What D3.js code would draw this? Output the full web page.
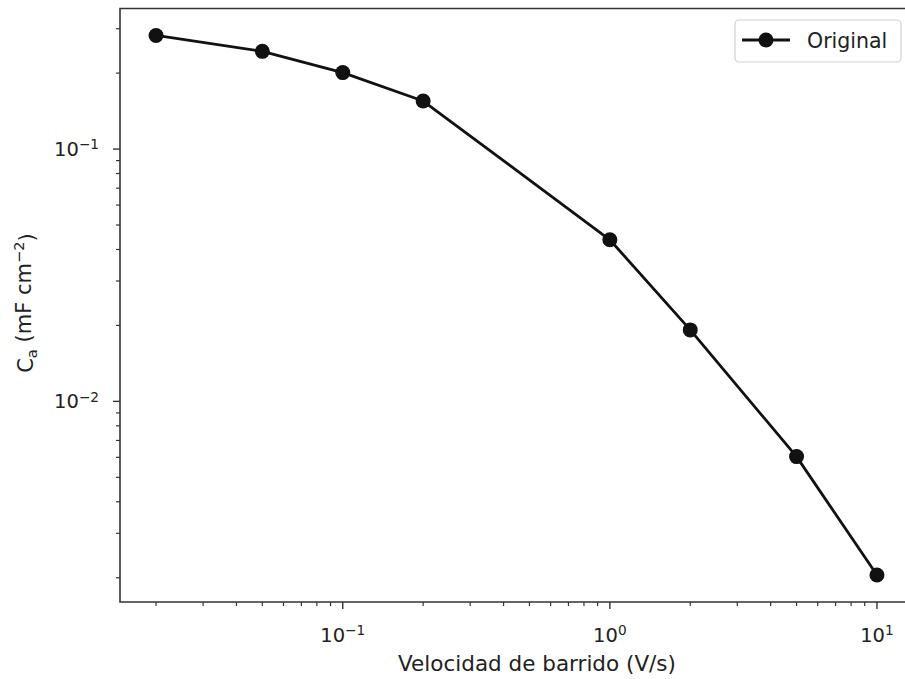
<!DOCTYPE html>
<html>
<head>
<meta charset="utf-8">
<script src="https://cdn.jsdelivr.net/npm/d3@7/dist/d3.min.js"></script>
<style>
  html, body { margin: 0; padding: 0; background: #fff; }
  svg { display: block; font-family: "DejaVu Sans", sans-serif; }
</style>
</head>
<body>
<svg id="chart" width="905" height="679"></svg>
<script>
// Scan rate (V/s) and areal capacitance (mF cm^-2)
const scanRates = [0.02, 0.05, 0.1, 0.2, 1, 2, 5, 10];
const capacitance = [0.282, 0.244, 0.201, 0.155, 0.0437, 0.0192, 0.00604, 0.00205];
const seriesName = "Original";
const xMajorExps = [-1, 0, 1];
const yMajorExps = [-2, -1];
const xLabel = "Velocidad de barrido (V/s)";

const svg = d3.select("#chart");
const m = { left: 120, top: 8.5, right: 913, bottom: 602 };

// log-space limits padded by 5% of the data span on each side
function paddedLog(vals) {
  const lo = Math.log10(d3.min(vals)), hi = Math.log10(d3.max(vals));
  const pad = (hi - lo) * 0.05;
  return [Math.pow(10, lo - pad), Math.pow(10, hi + pad)];
}

const x = d3.scaleLog().domain(paddedLog(scanRates)).range([m.left, m.right]);
const y = d3.scaleLog().domain(paddedLog(capacitance)).range([m.bottom, m.top]);

const ink = "#111";
const spine = "#333";
const textCol = "#222";

// minor tick positions: 2..9 x 10^k inside each domain
function minors(scale) {
  const [a, b] = scale.domain();
  const out = [];
  for (let k = Math.floor(Math.log10(a)); k <= Math.ceil(Math.log10(b)); k++) {
    for (let j = 2; j <= 9; j++) {
      const v = j * Math.pow(10, k);
      if (v >= a && v <= b) out.push(v);
    }
  }
  return out;
}

const axes = svg.append("g");

// x ticks
axes.selectAll(".xminor").data(minors(x)).enter().append("line")
  .attr("x1", d => x(d)).attr("x2", d => x(d))
  .attr("y1", m.bottom).attr("y2", m.bottom + 4)
  .attr("stroke", spine).attr("stroke-width", 1.2);
axes.selectAll(".xmajor").data(xMajorExps).enter().append("line")
  .attr("x1", d => x(Math.pow(10, d))).attr("x2", d => x(Math.pow(10, d)))
  .attr("y1", m.bottom).attr("y2", m.bottom + 7)
  .attr("stroke", spine).attr("stroke-width", 1.4);

// y ticks
axes.selectAll(".yminor").data(minors(y)).enter().append("line")
  .attr("y1", d => y(d)).attr("y2", d => y(d))
  .attr("x1", m.left).attr("x2", m.left - 4)
  .attr("stroke", spine).attr("stroke-width", 1.2);
axes.selectAll(".ymajor").data(yMajorExps).enter().append("line")
  .attr("y1", d => y(Math.pow(10, d))).attr("y2", d => y(Math.pow(10, d)))
  .attr("x1", m.left).attr("x2", m.left - 7)
  .attr("stroke", spine).attr("stroke-width", 1.4);

// power-of-ten labels
function powerLabel(sel, e) {
  sel.append("tspan").text("10");
  sel.append("tspan").attr("font-size", "0.7em").attr("dy", "-0.5em")
    .text(e < 0 ? "\u2212" + Math.abs(e) : String(e));
}
xMajorExps.forEach(e => {
  const t = axes.append("text")
    .attr("x", x(Math.pow(10, e))).attr("y", m.bottom + 40)
    .attr("text-anchor", "middle").attr("font-size", 19.5).attr("fill", textCol);
  powerLabel(t, e);
});
yMajorExps.forEach(e => {
  const t = axes.append("text")
    .attr("x", m.left - 21).attr("y", y(Math.pow(10, e)) + 7)
    .attr("text-anchor", "end").attr("font-size", 19.5).attr("fill", textCol);
  powerLabel(t, e);
});

// axis titles
svg.append("text")
  .attr("x", 537).attr("y", 671)
  .attr("text-anchor", "middle").attr("font-size", 21.5).attr("fill", textCol)
  .text(xLabel);

const yl = svg.append("text")
  .attr("transform", `translate(33, 303) rotate(-90)`)
  .attr("text-anchor", "middle").attr("font-size", 21).attr("fill", textCol);
yl.append("tspan").text("C");
yl.append("tspan").attr("font-size", "0.7em").attr("dy", "0.3em").text("a");
yl.append("tspan").attr("dy", "-0.3em").text(" (mF cm");
yl.append("tspan").attr("font-size", "0.7em").attr("dy", "-0.5em").text("\u22122");
yl.append("tspan").attr("dy", "0.5em").text(")");

// series
const pts = scanRates.map((v, i) => [v, capacitance[i]]);
svg.append("path")
  .datum(pts)
  .attr("fill", "none").attr("stroke", ink).attr("stroke-width", 2.8)
  .attr("stroke-linejoin", "round")
  .attr("d", d3.line().x(d => x(d[0])).y(d => y(d[1])));
svg.selectAll(".pt").data(pts).enter().append("circle")
  .attr("cx", d => x(d[0])).attr("cy", d => y(d[1])).attr("r", 7.5)
  .attr("fill", ink);

// spines
axes.append("path")
  .attr("d", `M${m.right},${m.top} H${m.left} V${m.bottom} H${m.right}`)
  .attr("fill", "none").attr("stroke", spine).attr("stroke-width", 1.6);

// legend
const lg = svg.append("g");
lg.append("rect").attr("x", 735).attr("y", 20).attr("width", 166).attr("height", 42)
  .attr("rx", 4).attr("fill", "#fff").attr("stroke", "#d0d0d0").attr("stroke-width", 1.2);
lg.append("line").attr("x1", 742).attr("x2", 790).attr("y1", 40).attr("y2", 40)
  .attr("stroke", ink).attr("stroke-width", 2.8);
lg.append("circle").attr("cx", 766).attr("cy", 40).attr("r", 7.5).attr("fill", ink);
lg.append("text").attr("x", 807).attr("y", 48).attr("font-size", 20.5).attr("fill", textCol)
  .text(seriesName);
</script>
</body>
</html>
